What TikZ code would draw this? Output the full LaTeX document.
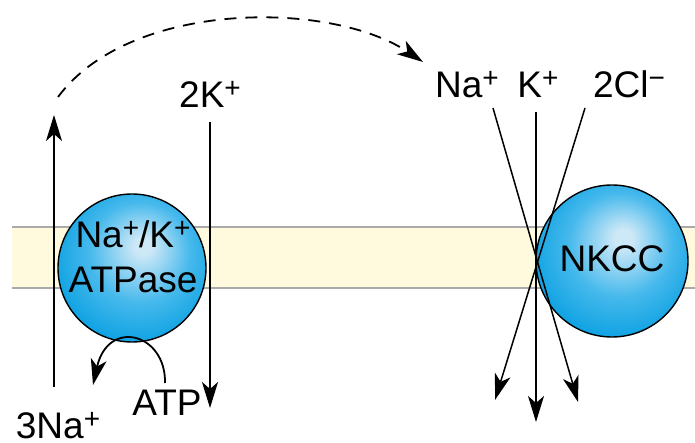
\documentclass[tikz,border=0pt]{standalone}
\usepackage{fontspec}
\setmainfont{Liberation Sans}
\usetikzlibrary{arrows.meta}
\definecolor{memfill}{RGB}{255,249,222}
\definecolor{memline}{RGB}{170,170,170}
\definecolor{sphlight}{RGB}{205,232,247}
\definecolor{sphmid}{RGB}{70,185,236}
\definecolor{sphedge}{RGB}{0,156,224}
\pgfdeclareradialshading{bluesphere}{\pgfpoint{4bp}{8bp}}{color(0bp)=(sphlight); color(3bp)=(sphlight); color(17bp)=(sphmid); color(32bp)=(sphedge); color(50bp)=(sphedge)}
\newcommand\supp[1]{\raisebox{10pt}{\fontsize{28}{28}\selectfont #1}}
\tikzset{
  lbl/.style={inner sep=0pt, font=\fontsize{37}{45}\selectfont},
  sphere/.style={circle, draw=black, line width=1.4pt, shading=bluesphere, inner sep=0pt},
  arr/.style={line width=1.8pt, -{Stealth[length=26pt,width=16pt,inset=7pt]}},
  thinarr/.style={line width=1.5pt, -{Stealth[length=26pt,width=16pt,inset=7pt]}},
  dasharr/.style={line width=1.8pt, dash pattern=on 12pt off 9pt, -{Stealth[length=26pt,width=16pt,inset=7pt]}},
  membrane/.style={fill=memfill, draw=none},
  memedge/.style={draw=memline, line width=2pt}
}
\begin{document}
\begin{tikzpicture}[x=1pt,y=-1pt]
\useasboundingbox (0,0) rectangle (695,443);
% membrane
\fill[membrane] (12,227) rectangle (695,288);
\coordinate (mtl) at (12,227); \coordinate (mtr) at (695,227);
\coordinate (mbl) at (12,288); \coordinate (mbr) at (695,288);
\draw[memedge] (mtl) -- (mtr);
\draw[memedge] (mbl) -- (mbr);
% spheres
\node[sphere, minimum size=148pt] (atpase) at (132,268) {};
\node[sphere, minimum size=152pt] (nkcc) at (612,261) {};
\node[lbl, align=center] (atpasetext) at (133,257) {Na\supp{+}/K\supp{+}\\ATPase};
\node[lbl] (nkcctext) at (612,258.5) {NKCC};
% labels
\node[lbl, anchor=base] (k2) at (210,108) {2K\supp{+}};
\node[lbl, anchor=base] (na3) at (58,438) {3Na\supp{+}};
\node[lbl, anchor=base] (atp) at (167,415) {ATP};
\node[lbl, anchor=base] (na1) at (467,98) {Na\supp{+}};
\node[lbl, anchor=base] (k1) at (538,98) {K\supp{+}};
\node[lbl, anchor=base] (cl2) at (629,98) {2Cl\supp{−}};
% pump arrows
\coordinate (naS) at (54,387); \coordinate (naE) at (54,115);
\coordinate (kS) at (210,122); \coordinate (kE) at (210,408);
\draw[arr] (naS) -- (naE);
\draw[arr] (kS) -- (kE);
% dashed
\coordinate (dS) at (58,97); \coordinate (dE) at (423,62);
\draw[dasharr] (dS) .. controls (130,0) and (330,0) .. (dE);
% ATP curve
\coordinate (atpS) at (165,383); \coordinate (atpE) at (93,385);
\draw[arr] (atpS) .. controls (166,333) and (108,318) .. (atpE);
% NKCC arrows
\coordinate (nnS) at (493,108); \coordinate (nnE) at (578,402);
\coordinate (nkS) at (536,112); \coordinate (nkE) at (536,422);
\coordinate (ncS) at (585,108); \coordinate (ncE) at (495,400);
\draw[thinarr] (nnS) -- (nnE);
\draw[thinarr] (nkS) -- (nkE);
\draw[thinarr] (ncS) -- (ncE);
\end{tikzpicture}
\end{document}
